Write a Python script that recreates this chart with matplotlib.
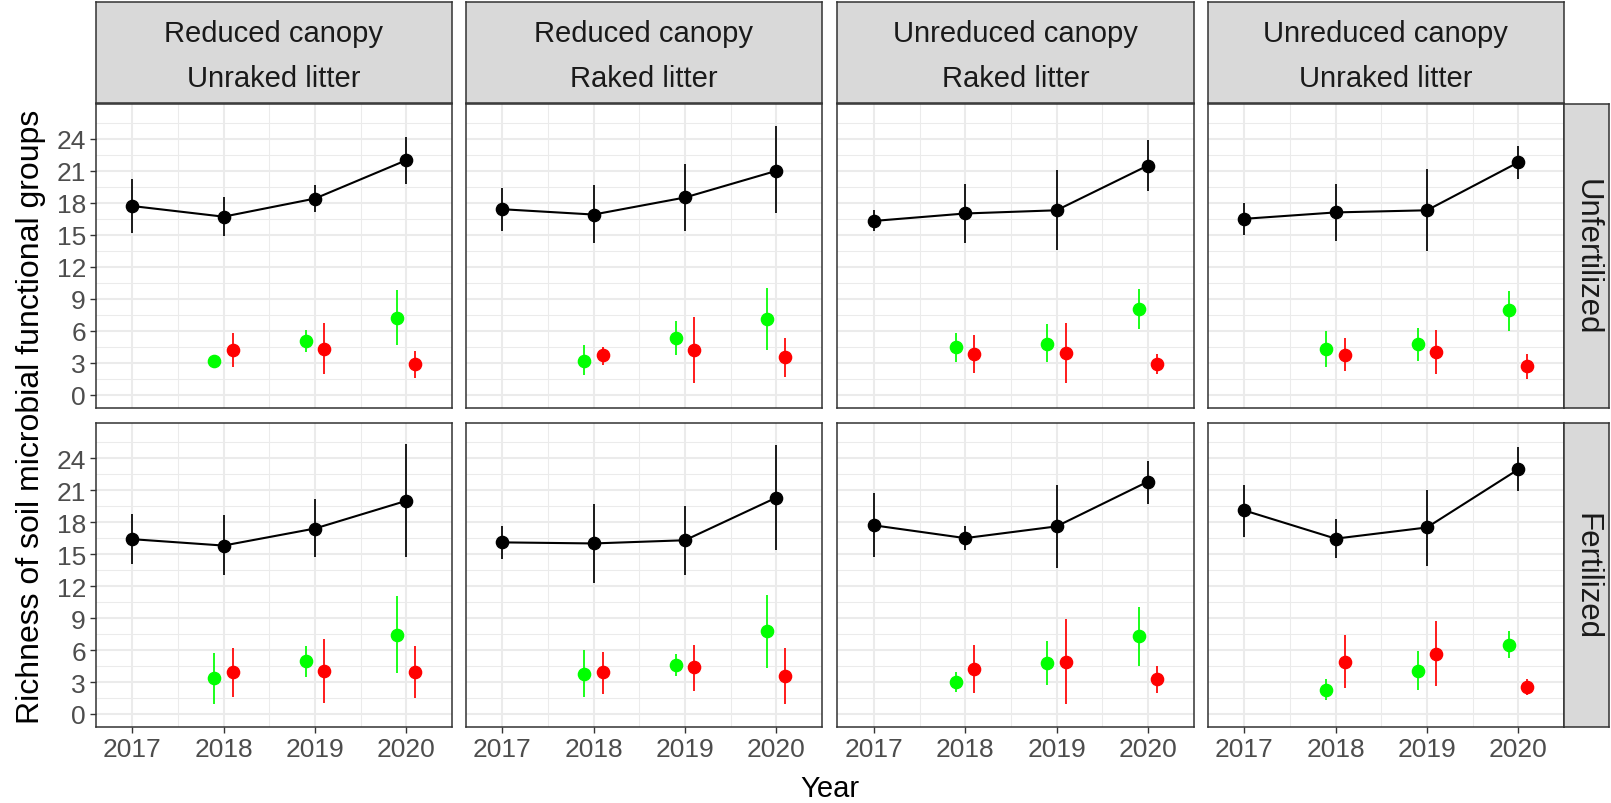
import matplotlib
matplotlib.use('Agg')
import matplotlib.pyplot as plt
import numpy as np

plt.rcParams['font.family'] = ['Liberation Sans', 'DejaVu Sans']

# ---------------- data ----------------
years = [2017, 2018, 2019, 2020]
sub_years = [2018, 2019, 2020]
col_labels = [("Reduced canopy", "Unraked litter"),
              ("Reduced canopy", "Raked litter"),
              ("Unreduced canopy", "Raked litter"),
              ("Unreduced canopy", "Unraked litter")]
row_labels = ["Unfertilized", "Fertilized"]
y_ticks = [0, 3, 6, 9, 12, 15, 18, 21, 24]

# panel order: row 0 (Unfertilized) cols 0..3, then row 1 (Fertilized) cols 0..3
black_mean = [[17.7, 16.7, 18.4, 22.0], [17.4, 16.9, 18.5, 21.0],
              [16.3, 17.0, 17.3, 21.5], [16.5, 17.1, 17.3, 21.8],
              [16.4, 15.8, 17.4, 20.0], [16.1, 16.0, 16.3, 20.3],
              [17.7, 16.5, 17.6, 21.8], [19.1, 16.45, 17.5, 22.95]]
black_lo = [[15.2, 14.9, 17.1, 19.8], [15.4, 14.2, 15.4, 17.0],
            [15.4, 14.2, 13.6, 19.1], [15.0, 14.4, 13.5, 20.2],
            [14.1, 13.0, 14.7, 14.7], [14.5, 12.3, 13.0, 15.4],
            [14.7, 15.4, 13.7, 19.7], [16.6, 14.6, 13.9, 20.9]]
black_hi = [[20.2, 18.5, 19.7, 24.2], [19.4, 19.7, 21.6, 25.2],
            [17.3, 19.8, 21.1, 23.9], [18.0, 19.8, 21.2, 23.3],
            [18.8, 18.7, 20.2, 25.3], [17.6, 19.7, 19.5, 25.2],
            [20.7, 17.6, 21.5, 23.75], [21.5, 18.3, 21.05, 25.05]]

green_mean = [[3.2, 5.0, 7.2], [3.2, 5.3, 7.1], [4.5, 4.8, 8.0], [4.3, 4.8, 7.9],
              [3.35, 4.95, 7.45], [3.75, 4.6, 7.8], [3.0, 4.75, 7.3], [2.25, 4.05, 6.5]]
green_lo = [[2.95, 4.0, 4.7], [1.8, 3.7, 4.2], [3.1, 3.1, 6.2], [2.6, 3.2, 6.0],
            [0.9, 3.5, 3.8], [1.6, 3.6, 4.3], [2.1, 2.7, 4.5], [1.3, 2.25, 5.25]]
green_hi = [[3.45, 6.1, 9.8], [4.7, 6.9, 10.0], [5.8, 6.6, 9.9], [6.0, 6.3, 9.7],
            [5.7, 6.4, 11.1], [6.0, 5.6, 11.2], [3.9, 6.8, 10.0], [3.3, 5.95, 7.75]]

red_mean = [[4.2, 4.3, 2.9], [3.7, 4.2, 3.5], [3.8, 3.9, 2.85], [3.7, 4.0, 2.7],
            [3.95, 4.0, 3.9], [3.9, 4.4, 3.55], [4.25, 4.85, 3.25], [4.9, 5.65, 2.55]]
red_lo = [[2.6, 1.9, 1.6], [2.8, 1.1, 1.7], [2.0, 1.1, 1.9], [2.2, 1.9, 1.5],
          [1.6, 1.0, 1.5], [1.85, 2.2, 0.9], [1.95, 0.9, 2.0], [2.45, 2.6, 1.8]]
red_hi = [[5.8, 6.7, 4.1], [4.5, 7.3, 5.3], [5.6, 6.7, 3.8], [5.3, 6.1, 3.8],
          [6.2, 7.0, 6.4], [5.85, 6.5, 6.2], [6.45, 8.9, 4.5], [7.4, 8.75, 3.3]]

# ---------------- layout ----------------
W, H = 1611, 804
fig = plt.figure(figsize=(W / 100, H / 100), dpi=100)

def frac(x0, y0, x1, y1):
    return [x0 / W, 1 - y1 / H, (x1 - x0) / W, (y1 - y0) / H]

col_x = [95.7, 465.7, 837.3, 1207.7]
pw = 356.3
row_y = [(104.7, 409.0), (424.0, 728.3)]

GRID = '#EBEBEB'
EDGE = '#333333'
DODGE = 0.1
lw_err = 1.25

for r in range(2):
    for c in range(4):
        i = r * 4 + c
        ax = fig.add_axes(frac(col_x[c], row_y[r][0], col_x[c] + pw, row_y[r][1]))
        ax.set_xlim(2016.6, 2020.5)
        ax.set_ylim(-1.25, 27.3)
        # grid
        for yv in np.arange(-1.5, 27.0, 3.0):
            ax.axhline(yv, color=GRID, lw=0.75, zorder=0)
        for yv in y_ticks:
            ax.axhline(yv, color=GRID, lw=1.45, zorder=0)
        for xv in [2016.5, 2017.5, 2018.5, 2019.5, 2020.5]:
            ax.axvline(xv, color=GRID, lw=0.75, zorder=0)
        for xv in years:
            ax.axvline(xv, color=GRID, lw=1.45, zorder=0)

        # black series
        ax.vlines(years, black_lo[i], black_hi[i], color='black', lw=lw_err, zorder=3)
        ax.plot(years, black_mean[i], color='black', lw=1.5, zorder=3)
        ax.plot(years, black_mean[i], 'o', color='black', ms=8.8, zorder=4)
        # green series (dodged left)
        gx = [y - DODGE for y in sub_years]
        ax.vlines(gx, green_lo[i], green_hi[i], color='#00FF00', lw=lw_err, zorder=3)
        ax.plot(gx, green_mean[i], 'o', color='#00FF00', ms=8.8, zorder=4)
        # red series (dodged right)
        rx = [y + DODGE for y in sub_years]
        ax.vlines(rx, red_lo[i], red_hi[i], color='#FF0000', lw=lw_err, zorder=3)
        ax.plot(rx, red_mean[i], 'o', color='#FF0000', ms=8.8, zorder=4)

        for s in ax.spines.values():
            s.set_color(EDGE)
            s.set_linewidth(1.1)
        ax.set_xticks(years)
        ax.set_yticks(y_ticks)
        ax.tick_params(axis='both', length=4, width=1.0, color=EDGE,
                       labelsize=19, labelcolor='#4D4D4D', pad=3)
        if r == 0:
            ax.tick_params(axis='x', length=0, labelbottom=False)
        else:
            ax.set_xticklabels([str(y) for y in years])
        if c != 0:
            ax.tick_params(axis='y', length=0, labelleft=False)
        ax.set_facecolor('white')

# top strips
for c in range(4):
    sa = fig.add_axes(frac(col_x[c], 3.3, col_x[c] + pw, 104.3))
    sa.set_facecolor('#D9D9D9')
    sa.set_xticks([]); sa.set_yticks([])
    for s in sa.spines.values():
        s.set_color(EDGE); s.set_linewidth(1.1)
    sa.text(0.5, 0.62, col_labels[c][0], ha='center', va='baseline',
            fontsize=21, color='#1A1A1A', transform=sa.transAxes)
    sa.text(0.5, 0.168, col_labels[c][1], ha='center', va='baseline',
            fontsize=21, color='#1A1A1A', transform=sa.transAxes)

# right strips
for r in range(2):
    sa = fig.add_axes(frac(1564.0, row_y[r][0], 1609.3, row_y[r][1]))
    sa.set_facecolor('#D9D9D9')
    sa.set_xticks([]); sa.set_yticks([])
    for s in sa.spines.values():
        s.set_color(EDGE); s.set_linewidth(1.1)
    sa.text(0.5, 0.5, row_labels[r], ha='center', va='center', rotation=270,
            fontsize=22.5, color='#1A1A1A', transform=sa.transAxes)

fig.text(830 / W, 1 - 796.7 / H, 'Year', ha='center', va='baseline', fontsize=21, color='black')
fig.text(31 / W, 1 - 416.5 / H, 'Richness of soil microbial functional groups',
         ha='center', va='center', rotation=90, fontsize=23, color='black')

fig.savefig('out.png', dpi=100, facecolor='white')
